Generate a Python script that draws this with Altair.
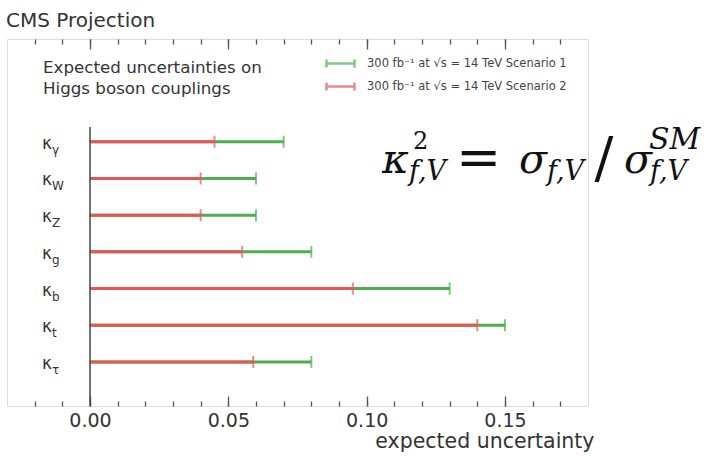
import altair as alt
import pandas as pd

# ---- data ----
subscripts = ["γ", "W", "Z", "g", "b", "t", "τ"]
scenario1 = [0.07, 0.06, 0.06, 0.08, 0.13, 0.15, 0.08]       # green
scenario2 = [0.045, 0.04, 0.04, 0.055, 0.095, 0.14, 0.059]   # red
series_names = ["300 fb⁻¹ at  √s = 14 TeV Scenario 1",
                "300 fb⁻¹ at  √s = 14 TeV Scenario 2"]
x_ticks = [0.0, 0.05, 0.10, 0.15]
x_minor = [round(-0.02 + 0.01 * i, 2) for i in range(20)]

rows = []
for i, s in enumerate(subscripts):
    rows.append({"sub": s, "idx": i, "series": series_names[0], "value": scenario1[i]})
for i, s in enumerate(subscripts):
    rows.append({"sub": s, "idx": i, "series": series_names[1], "value": scenario2[i]})
df = pd.DataFrame(rows)
labels_df = pd.DataFrame({"sub": subscripts, "idx": list(range(len(subscripts)))})

W, H = 581, 367
GREEN, RED = "#4cae4c", "#e5565a"
SANS = "DejaVu Sans"
SERIF = "DejaVu Serif"
FRAME = "#555555"

xscale = alt.Scale(domain=[-0.03, 0.18], nice=False, zero=False)
yscale = alt.Scale(domain=[-2.8, 7.2], nice=False, zero=False, reverse=True)

legend = alt.Legend(
    orient="none", legendX=327, legendY=18, title=None,
    symbolType="M-2.8,0L2.8,0M-2.8,-0.8L-2.8,0.8M2.8,-0.8L2.8,0.8",
    symbolSize=100, symbolStrokeWidth=2.5, symbolFillColor="transparent",
    labelFont=SANS, labelFontSize=11.5, labelColor="#444", labelOffset=20,
    labelLimit=400, rowPadding=4,
)
color = alt.Color("series:N", scale=alt.Scale(domain=series_names, range=[GREEN, RED]),
                  legend=legend)
Y = alt.Y("idx:Q", scale=yscale, axis=None)

ax_main = alt.Axis(orient="bottom", values=x_ticks, format=".2f", ticks=False, domain=False,
                   grid=False, labelFont=SANS, labelFontSize=19, labelColor="#333",
                   labelPadding=5, title="expected uncertainty", titleFont=SANS,
                   titleFontSize=20.5, titleFontWeight="normal", titleColor="#333",
                   titleX=587, titleAlign="right", titlePadding=1)
ax_bot_major = alt.Axis(orient="top", offset=-H, values=x_ticks, tickSize=10, labels=False,
                        domain=False, grid=False, title=None, tickColor=FRAME, tickWidth=1.3)
ax_bot_minor = alt.Axis(orient="top", offset=-H, values=x_minor, tickSize=5, labels=False,
                        domain=False, grid=False, title=None, tickColor=FRAME, tickWidth=1.3)
ax_top_major = alt.Axis(orient="bottom", offset=-H, values=x_ticks, tickSize=10, labels=False,
                        domain=False, grid=False, title=None, tickColor=FRAME, tickWidth=1.3)
ax_top_minor = alt.Axis(orient="bottom", offset=-H, values=x_minor, tickSize=5, labels=False,
                        domain=False, grid=False, title=None, tickColor=FRAME, tickWidth=1.3)

base = alt.Chart(df)
s1 = base.transform_filter(alt.datum.series == series_names[0])
s2 = base.transform_filter(alt.datum.series == series_names[1])

rule1 = s1.mark_rule(strokeWidth=3).encode(
    x=alt.X("zero:Q", scale=xscale, axis=ax_main), x2="value:Q", y=Y, color=color
).transform_calculate(zero="0")
cap1 = s1.mark_tick(orient="vertical", size=12, thickness=2).encode(
    x=alt.X("value:Q", scale=xscale, axis=ax_bot_major), y=Y, color=color)
rule2 = s2.mark_rule(strokeWidth=3).encode(
    x=alt.X("zero:Q", scale=xscale, axis=ax_bot_minor), x2="value:Q", y=Y, color=color
).transform_calculate(zero="0")
cap2 = s2.mark_tick(orient="vertical", size=12, thickness=2).encode(
    x=alt.X("value:Q", scale=xscale, axis=ax_top_major), y=Y, color=color)

zero_line = alt.Chart(alt.Data(values=[{}])).mark_rule(color="#444", strokeWidth=1.5).encode(
    x=alt.X(datum=0, scale=xscale, axis=ax_top_minor),
    y=alt.Y(datum=-0.4, scale=yscale, axis=None),
    y2=alt.datum(7.2),
)

kappa = alt.Chart(labels_df).mark_text(text="κ", font=SANS, fontSize=17, color="#333",
                                       align="center", baseline="alphabetic", dy=7).encode(
    x=alt.value(40), y=Y)
kappa_sub = alt.Chart(labels_df).mark_text(font=SANS, fontSize=12, color="#333",
                                           align="left", baseline="alphabetic", dy=12).encode(
    x=alt.value(45), y=Y, text="sub:N")


def txt(text, x, y, size, font=SANS, style="normal", color="#333", align="left"):
    return alt.Chart(alt.Data(values=[{}])).mark_text(
        text=text, font=font, fontSize=size, fontStyle=style, color=color,
        align=align, baseline="alphabetic").encode(x=alt.value(x), y=alt.value(y))


INK = "#111"
notes = [
    txt("CMS Projection", -1, -12, 20),
    txt("Expected uncertainties on", 36, 34, 16.7),
    txt("Higgs boson couplings", 36, 55, 16.7),
    # formula overlay
    txt("κ", 375, 134, 41, SERIF, "italic", INK),
    txt("2", 406, 110, 24, SERIF, "normal", INK),
    txt("f,V", 402, 141, 27, SERIF, "italic", INK),
    txt("=", 449, 137, 54, SERIF, "normal", INK),
    txt("σ", 512, 134, 41, SERIF, "italic", INK),
    txt("f,V", 540, 141, 27, SERIF, "italic", INK),
    txt("/", 597, 138, 56, SERIF, "normal", INK, "center"),
    txt("σ", 617, 134, 41, SERIF, "italic", INK),
    txt("SM", 642, 110, 30, SERIF, "italic", INK),
    txt("f,V", 643, 141, 27, SERIF, "italic", INK),
]

chart = alt.layer(rule1, cap1, rule2, cap2, zero_line, kappa, kappa_sub, *notes).resolve_axis(
    x="independent"
).properties(
    width=W, height=H,
    autosize=alt.AutoSizeParams(type="none"),
    padding={"left": 7, "top": 39, "right": 124, "bottom": 50},
).configure_view(stroke=FRAME, strokeWidth=1.5).configure(background="white")

chart.save("out.html", embed_options={"renderer": "svg", "actions": False})
